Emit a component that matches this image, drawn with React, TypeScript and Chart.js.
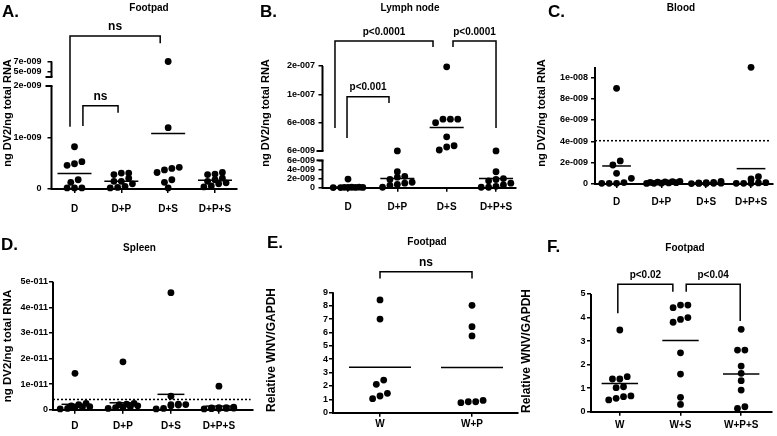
import React, { useEffect, useRef } from "react";
import { Chart, registerables } from "chart.js";

Chart.register(...registerables);

const FONT = '"Liberation Sans", Arial, Helvetica, sans-serif';

// ---------------- categories ----------------
const dvCategories = ["D", "D+P", "D+S", "D+P+S"];
const wnvCategoriesE = ["W", "W+P"];
const wnvCategoriesF = ["W", "W+S", "W+P+S"];

// ---------------- A. Footpad (ng DV2 / ng total RNA) ----------------
const footD = [8.2e-10, 5.3e-10, 4.9e-10, 4.6e-10, 1.8e-10, 1.3e-10, 2e-11, 2e-11, 2e-11];
const footDP = [3.1e-10, 3.1e-10, 2.8e-10, 2.1e-10, 1.5e-10, 1.5e-10, 1.0e-10, 5e-11, 3e-11, 2e-11];
const footDS = [7e-9, 1.19e-9, 4.2e-10, 4.0e-10, 3.7e-10, 3.2e-10, 1.8e-10, 1.3e-10, 2e-11];
const footDPS = [3.2e-10, 2.9e-10, 2.8e-10, 2.1e-10, 1.8e-10, 1.5e-10, 1.2e-10, 1.0e-10, 6e-11, 4e-11];
const footMeans = [3.0e-10, 1.5e-10, 1.08e-9, 1.7e-10];
const footLowerTicks = [0, 1e-9, 2e-9];
const footUpperTicks = [5e-9, 7e-9];
const footTickLabels = ["0", "1e-009", "2e-009", "5e-009", "7e-009"];

// ---------------- B. Lymph node ----------------
const lymphD = [1.9e-9, 1.2e-10, 1.0e-10, 8e-11, 6e-11, 5e-11, 4e-11, 3e-11, 2e-11];
const lymphDP = [6.2e-9, 3.5e-9, 2.5e-9, 2.3e-9, 1.8e-9, 1.2e-9, 1.0e-9, 7e-10, 5e-10, 1e-10];
const lymphDS = [1.97e-7, 6.5e-8, 6.5e-8, 6.5e-8, 6.0e-8, 3.3e-8, 1.6e-8, 1.36e-8, 7.9e-9];
const lymphDPS = [6.2e-9, 3.5e-9, 2.0e-9, 1.8e-9, 1.5e-9, 1.0e-9, 6e-10, 3e-10, 1e-10, 1e-10];
const lymphMeans = [1.5e-10, 2.0e-9, 5.1e-8, 2.0e-9];
const lymphLowerTicks = [0, 2e-9, 4e-9, 6e-9];
const lymphUpperTicks = [6e-9, 6e-8, 1e-7, 2e-7];
const lymphTickLabels = ["0", "2e-009", "4e-009", "6e-009", "6e-009", "6e-008", "1e-007", "2e-007"];

// ---------------- C. Blood ----------------
const bloodD = [8.97e-9, 2.16e-9, 1.78e-9, 1.0e-9, 5.3e-10, 1.3e-10, 6e-11, 6e-11, 6e-11];
const bloodDP = [2.5e-10, 2.2e-10, 2.0e-10, 1.8e-10, 1.5e-10, 1.2e-10, 1.0e-10, 8e-11, 6e-11, 5e-11];
const bloodDS = [2.5e-10, 1.5e-10, 1.2e-10, 1.0e-10, 8e-11, 6e-11, 5e-11, 5e-11, 4e-11];
const bloodDPS = [1.094e-8, 6.9e-10, 4.7e-10, 1.2e-10, 1.0e-10, 6e-11, 6e-11, 6e-11];
const bloodMeans = [1.69e-9, 1.4e-10, 1.0e-10, 1.44e-9];
const bloodThreshold = 4.06e-9;
const bloodTicks = [0, 2e-9, 4e-9, 6e-9, 8e-9, 1e-8];
const bloodTickLabels = ["0", "2e-009", "4e-009", "6e-009", "8e-009", "1e-008"];

// ---------------- D. Spleen ----------------
const spleenD = [1.42e-11, 2.5e-12, 2.0e-12, 1.5e-12, 1.2e-12, 1.0e-12, 8e-13, 5e-13, 3e-13];
const spleenDP = [1.87e-11, 2.5e-12, 2.2e-12, 2.0e-12, 1.5e-12, 1.2e-12, 1.0e-12, 8e-13, 5e-13];
const spleenDS = [4.57e-11, 5.3e-12, 2.2e-12, 2.0e-12, 2.0e-12, 1.8e-12, 1.5e-12, 5e-13, 3e-13];
const spleenDPS = [9.2e-12, 1.0e-12, 8e-13, 8e-13, 7e-13, 6e-13, 5e-13, 5e-13, 4e-13, 3e-13];
const spleenMeans = [2.1e-12, 2.7e-12, 6.0e-12, 1.4e-12];
const spleenThreshold = 4.0e-12;
const spleenTicks = [0, 1e-11, 2e-11, 3e-11, 4e-11, 5e-11];
const spleenTickLabels = ["0", "1e-011", "2e-011", "3e-011", "4e-011", "5e-011"];

// ---------------- E. Footpad (Relative WNV/GAPDH) ----------------
const wnvE_W = [8.43, 7.0, 2.44, 2.12, 1.45, 1.25, 1.05];
const wnvE_WP = [8.03, 6.43, 5.74, 0.92, 0.82, 0.82, 0.75];
const wnvE_Means = [3.39, 3.37];
const wnvE_Ticks = [0, 1, 2, 3, 4, 5, 6, 7, 8, 9];
const wnvE_TickLabels = ["0", "1", "2", "3", "4", "5", "6", "7", "8", "9"];

// ---------------- F. Footpad (Relative WNV/GAPDH) ----------------
const wnvF_W = [3.47, 1.49, 1.39, 1.39, 1.06, 1.02, 0.67, 0.64, 0.57, 0.5];
const wnvF_WS = [4.53, 4.53, 4.42, 4.0, 3.92, 3.8, 2.5, 1.6, 0.61, 0.31];
const wnvF_WPS = [3.5, 2.62, 2.62, 1.94, 1.63, 1.32, 0.92, 0.21, 0.14];
const wnvF_Means = [1.2, 3.02, 1.6];
const wnvF_Ticks = [0, 1, 2, 3, 4, 5];
const wnvF_TickLabels = ["0", "1", "2", "3", "4", "5"];

// ---------------- axis transforms (broken axes) ----------------
const footLower = (v: number) => v * 1e9;
const footUpper = (v: number) => 2.282 + (v - 5e-9) * 1e9 * 0.097;
const footAxis = (v: number) => (v <= 3e-9 ? footLower(v) : footUpper(v));

const LYMPH_UP0 = 8.05;
const LYMPH_STEP = 6.217;
const lymphLower = (v: number) => v * 1e9;
const lymphUpper = (v: number) => {
  const t = lymphUpperTicks;
  for (let k = 0; k < t.length - 1; k++) {
    if (v <= t[k + 1] || k === t.length - 2) {
      return LYMPH_UP0 + (k + (v - t[k]) / (t[k + 1] - t[k])) * LYMPH_STEP;
    }
  }
  return LYMPH_UP0;
};
const lymphAxis = (v: number) => (v <= 6e-9 ? lymphLower(v) : lymphUpper(v));

type Bracket = { x1: number; x2: number; top: number; b1: number; b2: number; label: string; size: number };
type Panel = {
  letter: string; letterX: number; letterY: number;
  title: string; titleX: number; titleY: number;
  yTitle: string; yTitleX: number; yTitleY: number; yTitleSize: number;
  cats: string[]; groups: number[][]; means: number[];
  toAxis: (v: number) => number;
  yTicks: number[]; yTickLabels: string[]; yMax: number; yTickPad: number;
  segments: [number, number][]; caps: number[];
  left: number; right: number; top: number; bottom: number;
  xMin: number; xMax: number; meanHalf: number; xLabelPad: number;
  threshold?: number;
  brackets: Bracket[];
};

const YW = 40;
const DOT_GAP = 7.4;
const ROW_H = 5.5;
const MAX_ROW = 5;

const DV_TITLE = "ng DV2/ng total RNA";
const WNV_TITLE = "Relative WNV/GAPDH";

const PANELS: Panel[] = [
  {
    letter: "A.", letterX: 2, letterY: 12, title: "Footpad", titleX: 149, titleY: 8,
    yTitle: DV_TITLE, yTitleX: 8, yTitleY: 113, yTitleSize: 11,
    cats: dvCategories, groups: [footD, footDP, footDS, footDPS], means: footMeans,
    toAxis: footAxis,
    yTicks: [...footLowerTicks.map(footLower), ...footUpperTicks.map(footUpper)],
    yTickLabels: footTickLabels, yMax: footUpper(7e-9), yTickPad: 6,
    segments: [[0, 2], [2.175, footUpper(7e-9)]], caps: [2, 2.175],
    left: 51.5, right: 237, top: 61.5, bottom: 189,
    xMin: 0.509, xMax: 4.47, meanHalf: 0.363, xLabelPad: 11,
    brackets: [
      { x1: 0.904, x2: 2.83, top: 2.971, b1: 1.21, b2: 2.829, label: "ns", size: 12 },
      { x1: 1.18, x2: 1.93, top: 1.617, b1: 1.223, b2: 1.482, label: "ns", size: 12 },
    ],
  },
  {
    letter: "B.", letterX: 260, letterY: 12, title: "Lymph node", titleX: 410, titleY: 8,
    yTitle: DV_TITLE, yTitleX: 266, yTitleY: 113, yTitleSize: 11,
    cats: dvCategories, groups: [lymphD, lymphDP, lymphDS, lymphDPS], means: lymphMeans,
    toAxis: lymphAxis,
    yTicks: [...lymphLowerTicks.map(lymphLower), ...lymphUpperTicks.map(lymphUpper)],
    yTickLabels: lymphTickLabels, yMax: lymphUpper(2e-7), yTickPad: 3.5,
    segments: [[0, 6], [LYMPH_UP0, lymphUpper(2e-7)]], caps: [6, LYMPH_UP0],
    left: 322.5, right: 516, top: 66, bottom: 187.7,
    xMin: 0.483, xMax: 4.405, meanHalf: 0.345, xLabelPad: 11,
    brackets: [
      { x1: 0.736, x2: 2.723, top: 32.19, b1: 13.1, b2: 30.87, label: "p<0.0001", size: 10 },
      { x1: 3.128, x2: 4.0, top: 32.19, b1: 30.87, b2: 13.1, label: "p<0.0001", size: 10 },
      { x1: 0.98, x2: 1.831, top: 19.96, b1: 10.9, b2: 18.58, label: "p<0.001", size: 10 },
    ],
  },
  {
    letter: "C.", letterX: 548, letterY: 12, title: "Blood", titleX: 681, titleY: 8,
    yTitle: DV_TITLE, yTitleX: 542, yTitleY: 113, yTitleSize: 11,
    cats: dvCategories, groups: [bloodD, bloodDP, bloodDS, bloodDPS], means: bloodMeans,
    toAxis: (v) => v * 1e9,
    yTicks: bloodTicks.map((v) => v * 1e9), yTickLabels: bloodTickLabels, yMax: 10.97, yTickPad: 3,
    segments: [[0, 10.97]], caps: [],
    left: 595, right: 774, top: 67, bottom: 184,
    xMin: 0.519, xMax: 4.49, meanHalf: 0.32, xLabelPad: 9,
    threshold: bloodThreshold,
    brackets: [],
  },
  {
    letter: "D.", letterX: 1, letterY: 245, title: "Spleen", titleX: 139.5, titleY: 248,
    yTitle: DV_TITLE, yTitleX: 8, yTitleY: 346, yTitleSize: 11.5,
    cats: dvCategories, groups: [spleenD, spleenDP, spleenDS, spleenDPS], means: spleenMeans,
    toAxis: (v) => v * 1e11,
    yTicks: spleenTicks.map((v) => v * 1e11), yTickLabels: spleenTickLabels, yMax: 5, yTickPad: 1,
    segments: [[0, 5]], caps: [],
    left: 53, right: 253, top: 281.7, bottom: 409.7,
    xMin: 0.542, xMax: 4.71, meanHalf: 0.28, xLabelPad: 7.5,
    threshold: spleenThreshold,
    brackets: [],
  },
  {
    letter: "E.", letterX: 267, letterY: 243, title: "Footpad", titleX: 427, titleY: 242,
    yTitle: WNV_TITLE, yTitleX: 272, yTitleY: 350, yTitleSize: 12,
    cats: wnvCategoriesE, groups: [wnvE_W, wnvE_WP], means: wnvE_Means,
    toAxis: (v) => v,
    yTicks: wnvE_Ticks, yTickLabels: wnvE_TickLabels, yMax: 9, yTickPad: 1,
    segments: [[0, 9]], caps: [],
    left: 333, right: 518, top: 292.3, bottom: 412.7,
    xMin: 0.489, xMax: 2.5, meanHalf: 0.337, xLabelPad: 2.5,
    brackets: [{ x1: 1, x2: 2, top: 10.54, b1: 10.04, b2: 10.04, label: "ns", size: 12 }],
  },
  {
    letter: "F.", letterX: 547, letterY: 247, title: "Footpad", titleX: 685, titleY: 248,
    yTitle: WNV_TITLE, yTitleX: 527, yTitleY: 351, yTitleSize: 12,
    cats: wnvCategoriesF, groups: [wnvF_W, wnvF_WS, wnvF_WPS], means: wnvF_Means,
    toAxis: (v) => v,
    yTicks: wnvF_Ticks, yTickLabels: wnvF_TickLabels, yMax: 5, yTickPad: 1.5,
    segments: [[0, 5]], caps: [],
    left: 591, right: 772, top: 294, bottom: 411.7,
    xMin: 0.525, xMax: 3.508, meanHalf: 0.3, xLabelPad: 4.5,
    brackets: [
      { x1: 0.967, x2: 1.874, top: 5.41, b1: 4.18, b2: 5.1, label: "p<0.02", size: 10 },
      { x1: 2.094, x2: 2.984, top: 5.41, b1: 5.1, b2: 3.85, label: "p<0.04", size: 10 },
    ],
  },
];

function decor(p: Panel) {
  return {
    id: "decor",
    afterDraw(chart: any) {
      const ctx: CanvasRenderingContext2D = chart.ctx;
      const xs = chart.scales.x;
      const ys = chart.scales.y;
      const ax = chart.chartArea.left;
      ctx.save();
      ctx.strokeStyle = "#000";
      ctx.fillStyle = "#000";
      // y axis segments (broken axes)
      ctx.lineWidth = 2;
      for (const [a, b] of p.segments) {
        const ya = ys.getPixelForValue(a) + (a === 0 ? 1 : 0);
        const yb = ys.getPixelForValue(b);
        ctx.beginPath();
        ctx.moveTo(ax, ya);
        ctx.lineTo(ax, yb);
        ctx.stroke();
      }
      for (const c of p.caps) {
        const y = ys.getPixelForValue(c);
        ctx.beginPath();
        ctx.moveTo(ax - 6, y);
        ctx.lineTo(ax + 1, y);
        ctx.stroke();
      }
      // significance brackets
      ctx.lineWidth = 1.5;
      for (const br of p.brackets) {
        const x1 = xs.getPixelForValue(br.x1);
        const x2 = xs.getPixelForValue(br.x2);
        const yt = ys.getPixelForValue(br.top);
        ctx.beginPath();
        ctx.moveTo(x1, ys.getPixelForValue(br.b1));
        ctx.lineTo(x1, yt);
        ctx.lineTo(x2, yt);
        ctx.lineTo(x2, ys.getPixelForValue(br.b2));
        ctx.stroke();
        ctx.font = `bold ${br.size}px ${FONT}`;
        ctx.textAlign = "center";
        ctx.textBaseline = "middle";
        ctx.fillText(br.label, (x1 + x2) / 2, yt - 9);
      }
      // panel letter
      ctx.font = `bold 17px ${FONT}`;
      ctx.textAlign = "left";
      ctx.textBaseline = "middle";
      ctx.fillText(p.letter, p.letterX, p.letterY);
      // title
      ctx.font = `bold 10px ${FONT}`;
      ctx.textAlign = "center";
      ctx.fillText(p.title, p.titleX, p.titleY);
      // y axis title
      ctx.translate(p.yTitleX, p.yTitleY);
      ctx.rotate(-Math.PI / 2);
      ctx.font = `bold ${p.yTitleSize}px ${FONT}`;
      ctx.fillText(p.yTitle, 0, 0);
      ctx.restore();
    },
  };
}

function swarm(chart: any, p: Panel) {
  const xs = chart.scales.x;
  const ys = chart.scales.y;
  const unit = xs.getPixelForValue(2) - xs.getPixelForValue(1);
  const sp = DOT_GAP / unit;
  p.groups.forEach((g, gi) => {
    const data = chart.data.datasets[gi].data as { x: number; y: number }[];
    const items = g
      .map((v, i) => ({ i, py: ys.getPixelForValue(p.toAxis(v)) as number }))
      .sort((a, b) => b.py - a.py);
    const rows: { i: number; py: number }[][] = [];
    for (const it of items) {
      const row = rows[rows.length - 1];
      if (row && row[0].py - it.py < ROW_H && row.length < MAX_ROW) row.push(it);
      else rows.push([it]);
    }
    rows.forEach((row, ri) => {
      const prev = rows[ri - 1];
      const shift = prev && Math.abs(prev[0].py - row[0].py) < ROW_H ? 0.5 : 0;
      row.forEach((it, j) => {
        data[it.i].x = gi + 1 + (j - (row.length - 1) / 2 + shift) * sp;
      });
    });
  });
  chart.update("none");
}

function makeChart(canvas: HTMLCanvasElement, p: Panel) {
  const xh = Math.min(30, 436 - p.bottom - 0.5);
  const dotSets = p.groups.map((g, gi) => ({
    data: g.map((v) => ({ x: gi + 1, y: p.toAxis(v) })),
    pointRadius: 3.4,
    pointBackgroundColor: "#000",
    pointBorderColor: "#000",
    pointBorderWidth: 0,
    showLine: false,
    clip: false,
  }));
  const meanSets = p.means.map((m, gi) => ({
    data: [
      { x: gi + 1 - p.meanHalf, y: p.toAxis(m) },
      { x: gi + 1 + p.meanHalf, y: p.toAxis(m) },
    ],
    showLine: true,
    borderColor: "#000",
    borderWidth: 1.5,
    pointRadius: 0,
    clip: false,
  }));
  const extra =
    p.threshold !== undefined
      ? [
          {
            data: [
              { x: p.xMin, y: p.toAxis(p.threshold) },
              { x: p.xMax - 0.05, y: p.toAxis(p.threshold) },
            ],
            showLine: true,
            borderColor: "#000",
            borderWidth: 1.5,
            borderDash: [2, 2],
            pointRadius: 0,
            clip: false,
          },
        ]
      : [];
  const tickFont = { family: FONT, size: 9, weight: "bold" as const };
  const chart = new Chart(canvas, {
    type: "scatter",
    data: { datasets: [...dotSets, ...meanSets, ...extra] as any },
    options: {
      responsive: false,
      animation: false,
      devicePixelRatio: 1,
      events: [],
      layout: {
        padding: {
          left: p.left - YW,
          right: 777 - p.right,
          top: p.top,
          bottom: 436 - p.bottom - xh,
        },
      },
      plugins: { legend: { display: false }, tooltip: { enabled: false }, title: { display: false } },
      scales: {
        x: {
          type: "linear",
          min: p.xMin,
          max: p.xMax,
          afterFit: (s: any) => {
            s.height = xh;
          },
          afterBuildTicks: (s: any) => {
            s.ticks = p.cats.map((_, i) => ({ value: i + 1 }));
          },
          ticks: {
            callback: (v: any) => p.cats[Math.round(Number(v)) - 1] ?? "",
            font: { family: FONT, size: 10, weight: "bold", lineHeight: 1 },
            color: "#000",
            padding: p.xLabelPad,
            autoSkip: false,
            maxRotation: 0,
            minRotation: 0,
          },
          grid: { display: true, drawOnChartArea: false, drawTicks: true, tickLength: 4, color: "#000", lineWidth: 1.5 },
          border: { display: true, color: "#000", width: 2 },
        },
        y: {
          type: "linear",
          min: 0,
          max: p.yMax,
          afterFit: (s: any) => {
            s.width = YW;
          },
          afterBuildTicks: (s: any) => {
            s.ticks = p.yTicks.map((v) => ({ value: v }));
          },
          ticks: {
            callback: (_v: any, i: number) => p.yTickLabels[i],
            font: tickFont,
            color: "#000",
            padding: p.yTickPad,
            autoSkip: false,
          },
          grid: { display: true, drawOnChartArea: false, drawTicks: true, tickLength: 4, color: "#000", lineWidth: 1.5 },
          border: { display: false },
        },
      },
    } as any,
    plugins: [decor(p)],
  });
  swarm(chart, p);
  return chart;
}

export default function App() {
  const refs = useRef<(HTMLCanvasElement | null)[]>([]);
  useEffect(() => {
    const charts = PANELS.map((p, i) => makeChart(refs.current[i] as HTMLCanvasElement, p));
    return () => {
      charts.forEach((c) => c.destroy());
    };
  }, []);
  return (
    <div
      style={{
        position: "fixed",
        left: 0,
        top: 0,
        width: 777,
        height: 436,
        background: "#fff",
        overflow: "hidden",
      }}
    >
      {PANELS.map((p, i) => (
        <canvas
          key={p.letter}
          ref={(el) => {
            refs.current[i] = el;
          }}
          width={777}
          height={436}
          style={{ position: "absolute", left: 0, top: 0, width: 777, height: 436 }}
        />
      ))}
    </div>
  );
}
